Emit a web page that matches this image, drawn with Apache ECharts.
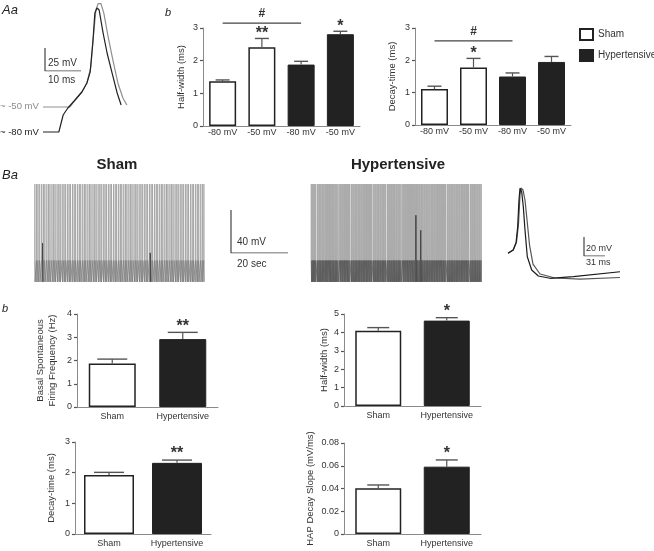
<!DOCTYPE html>
<html><head><meta charset="utf-8">
<script src="https://cdn.jsdelivr.net/npm/echarts@6/dist/echarts.min.js"></script>
<style>html,body{margin:0;padding:0;background:#fff}#c{width:654px;height:551px}</style>
</head><body><div id="c"></div>
<script>
// ---------------- DATA ----------------
// Aa: action potentials at two holding potentials (t in ms, V in mV)
const aaTraceMinus80 = [[0,-80],[4.4,-80],[5.6,-61.5],[6.9,-53.9],[8.9,-45.2],[10.8,-36.5],[12.2,-26.7],[13.1,-14.8],[13.9,20],[14.4,49.3],[15,54.8],[15.6,52.6],[16.7,27.6],[17.8,5.9],[19.2,-15.9],[20.6,-37.6],[21.7,-50.7]];
const aaTraceMinus50 = [[0,-52.8],[7.5,-52.8],[8.9,-45.2],[10.8,-36.5],[12.2,-26.7],[13.3,-9.3],[13.9,20],[14.7,52.6],[15.3,59.5],[16.1,59.5],[16.9,49.3],[18.1,23.3],[19.4,-1.7],[20.8,-26.7],[22.2,-43],[23.3,-50.7]];
const aaScaleBar = [25, 10]; // mV, ms

// Ab: bar charts
const topCategories = ['-80 mV', '-50 mV', '-80 mV', '-50 mV'];
const topGroups = ['Sham', 'Sham', 'Hypertensive', 'Hypertensive'];
const halfWidthMean = [1.37, 2.41, 1.88, 2.81];
const halfWidthSem  = [0.04, 0.27, 0.10, 0.09];
const halfWidthSig  = ['', '**', '', '*'];
const halfWidthHash = [0, 2, 3.15];
const decayMean = [1.11, 1.78, 1.50, 1.95];
const decaySem  = [0.09, 0.28, 0.11, 0.17];
const decaySig  = ['', '*', '', ''];
const decayHash = [0, 2, 2.6];

// Ba: spontaneous firing (spike times in s)
const shamSpikeTimes = [0.3,0.9,1.4,2.0,2.7,3.3,3.8,4.5,5.1,5.6,6.3,6.9,7.4,8.1,8.7,9.2,9.9,10.5,11.0,11.7,12.3,12.8,13.5,14.1,14.6,15.3,15.9,16.4,17.1,17.7,18.2,18.9,19.5,20.0,20.7,21.3,21.8,22.5,23.1,23.6,24.3,24.9,25.4,26.1,26.7,27.2,27.9,28.5,29.0,29.7,30.3,30.8,31.5,32.1,32.6,33.3,33.9,34.4,35.1,35.7,36.2,36.9,37.5,38.0,38.7,39.3,39.8,40.5,41.1,41.6,42.3,42.9,43.4,44.1,44.7,45.2,45.9,46.5,47.0,47.7,48.3,48.8,49.5,50.1,50.6,51.3,51.9,52.4,53.1,53.7,54.2,54.9,55.5,56.0,56.7,57.3,57.8,58.5,59.1,59.6];
const shamShortSpikes = [[3.0, -33], [40.8, -42]];
const hypSpikeTimes = [0.1,0.4,0.7,1.0,1.3,1.6,2.2,2.5,2.9,3.2,3.5,3.9,4.2,4.5,4.9,5.2,5.5,5.8,6.2,6.5,6.8,7.1,7.5,7.8,8.1,8.5,8.8,9.1,9.5,10.1,10.4,10.8,11.1,11.5,11.8,12.1,12.5,12.8,13.1,13.5,14.1,14.4,14.8,15.1,15.5,15.8,16.1,16.5,16.8,17.1,17.5,17.8,18.2,18.5,18.8,19.2,19.5,19.8,20.2,20.5,20.9,21.2,21.8,22.1,22.5,22.8,23.2,23.5,23.8,24.2,24.5,24.9,25.2,25.5,25.9,26.2,26.8,27.1,27.5,27.8,28.2,28.5,28.9,29.2,29.5,29.9,30.2,30.6,30.9,31.2,31.6,32.2,32.5,32.9,33.2,33.6,33.9,34.2,34.6,34.9,35.3,35.6,35.9,36.3,36.6,37.0,37.3,37.6,38.0,38.3,38.7,39.0,39.3,39.7,40.0,40.4,40.7,41.0,41.4,41.7,42.1,42.4,42.7,43.1,43.4,43.8,44.1,44.4,44.8,45.1,45.5,45.8,46.1,46.5,46.8,47.2,47.8,48.1,48.5,48.8,49.2,49.5,49.8,50.2,50.5,50.9,51.2,51.5,51.9,52.2,52.6,52.9,53.2,53.6,53.9,54.3,54.6,54.9,55.3,55.9,56.2,56.6,56.9,57.3,57.6,57.9,58.3,58.6,59.0,59.3,59.7];
const hypShortSpikes = [[36.8, -7], [38.5, -21]];
const spikeLevels = {pre: -49, peak: 22, trough: -69}; // mV
const trainScaleBar = [40, 20]; // mV, s

// Ba right: superimposed HAPs (t in ms, V in mV)
const hapSham = [[0,-50],[7.4,-46.5],[12.6,-38.1],[15.5,-19.2],[17.7,11.4],[19.2,18.7],[22.2,16.6],[25.1,6.1],[28.1,-15],[31.8,-41.3],[36.9,-61.3],[47.3,-71.8],[69.4,-76],[106.4,-77.1],[165.4,-75.5]];
const hapHyp  = [[0,-50],[7.8,-46.5],[11.8,-39.2],[14.3,-22],[16.2,6.1],[17.7,18.4],[20.2,14.8],[22.6,-0.9],[25.1,-25.5],[28.5,-53.6],[35,-67.6],[44.8,-73.9],[62,-76.3],[96.5,-74.6],[165.4,-69.4]];
const hapScaleBar = [20, 31]; // mV, ms

// Bb: bar charts
const groups = ['Sham', 'Hypertensive'];
const freqMean = [1.87, 2.92], freqSem = [0.19, 0.29], freqSig = ['', '**'];
const hwMean = [4.09, 4.64], hwSem = [0.17, 0.16], hwSig = ['', '*'];
const dtMean = [1.92, 2.32], dtSem = [0.09, 0.09], dtSig = ['', '**'];
const slopeMean = [0.0402, 0.0592], slopeSem = [0.0029, 0.0059], slopeSig = ['', '*'];

// ---------------- BUILD ----------------
const FONT = 'Liberation Sans';
const TXT = '#333';
const AX = '#8a8a8a';
const grids = [], xAxes = [], yAxes = [], series = [];

function addGrid(g, x, y) {
  const gi = grids.length;
  grids.push(Object.assign({containLabel: false}, g));
  xAxes.push(Object.assign({gridIndex: gi}, x));
  yAxes.push(Object.assign({gridIndex: gi}, y));
  return gi;
}
function hiddenGrid(g, xmin, xmax, ymin, ymax) {
  return addGrid(g, {type: 'value', min: xmin, max: xmax, show: false},
                    {type: 'value', min: ymin, max: ymax, show: false});
}
function lineSeries(gi, data, color, width, z) {
  series.push({type: 'line', xAxisIndex: gi, yAxisIndex: gi, data: data, showSymbol: false, symbol: 'none',
    lineStyle: {color: color, width: width}, silent: true, z: z || 2, animation: false});
}
function scaleBar(gi, vals) {
  lineSeries(gi, [[0, vals[0]], [0, 0], [vals[1], 0]], '#444', 1.2);
}
// each spike: pre-spike level -> peak -> after-hyperpolarisation
function spikeTrain(times, peaks) {
  const d = [];
  times.forEach((t, i) => {
    d.push([t - 0.05, spikeLevels.pre], [t, peaks ? peaks[i] : spikeLevels.peak], [t + 0.1, spikeLevels.trough]);
  });
  return d;
}
// sub-threshold part: after-hyperpolarisation -> next pre-spike level
function baseline(times) {
  const d = [];
  times.forEach((t, i) => {
    d.push([t - 0.05, spikeLevels.pre], [t + 0.1, spikeLevels.trough]);
  });
  return d;
}
function barChart(g, cats, ymax, interval, name, nameGap, labelMargin, fmt) {
  return addGrid(g,
    {type: 'category', data: cats.map((c, i) => String(i)),
     axisLine: {lineStyle: {color: AX, width: 1}},
     axisTick: {alignWithLabel: true, length: 3, lineStyle: {color: '#555', width: 1.2}},
     axisLabel: {interval: 0, formatter: (v, i) => cats[i], color: TXT, fontSize: 9, fontFamily: FONT, margin: labelMargin}},
    {type: 'value', min: 0, max: ymax, interval: interval, name: name, nameLocation: 'middle', nameGap: nameGap,
     nameTextStyle: {color: TXT, fontSize: 9.5, fontFamily: FONT, lineHeight: 12},
     axisLine: {show: true, lineStyle: {color: AX, width: 1}},
     axisTick: {show: true, length: 3, lineStyle: {color: '#555', width: 1.2}},
     splitLine: {show: false},
     axisLabel: {color: TXT, fontSize: 9, fontFamily: FONT, margin: 5, formatter: fmt}});
}
function bars(gi, means, grp, width) {
  const shamData = means.map((m, i) => grp[i] === 'Sham' ? m : '-');
  const hypData = means.map((m, i) => grp[i] === 'Hypertensive' ? m : '-');
  series.push({type: 'bar', name: 'Sham', xAxisIndex: gi, yAxisIndex: gi, data: shamData, barWidth: width, barGap: '-100%',
    itemStyle: {color: '#fff', borderColor: '#222', borderWidth: 1.5}, silent: true, animation: false});
  series.push({type: 'bar', name: 'Hypertensive', xAxisIndex: gi, yAxisIndex: gi, data: hypData, barWidth: width, barGap: '-100%',
    itemStyle: {color: '#222', borderColor: '#222', borderWidth: 1}, silent: true, animation: false});
}
function errors(gi, means, sems, sigs, capW, sigGap) {
  series.push({type: 'custom', xAxisIndex: gi, yAxisIndex: gi, z: 5, silent: true, animation: false, clip: false,
    data: means.map((m, i) => [i, m, sems[i]]),
    renderItem: (params, api) => {
      const i = api.value(0), m = api.value(1), e = api.value(2);
      const a = api.coord([i, m]), b = api.coord([i, m + e]);
      const ch = [
        {type: 'line', shape: {x1: a[0], y1: a[1], x2: b[0], y2: b[1]}, style: {stroke: '#555', lineWidth: 1.2}},
        {type: 'line', shape: {x1: b[0] - capW / 2, y1: b[1], x2: b[0] + capW / 2, y2: b[1]}, style: {stroke: '#555', lineWidth: 1.4}}
      ];
      const s = sigs[params.dataIndex];
      if (s) ch.push({type: 'text', x: b[0], y: b[1] - sigGap,
        style: {text: s, fill: '#333', fontSize: 16, fontFamily: FONT, fontWeight: 'bold', align: 'center', verticalAlign: 'middle'}});
      return {type: 'group', children: ch};
    }});
}
function hashBracket(gi, h) {
  series.push({type: 'custom', xAxisIndex: gi, yAxisIndex: gi, z: 5, silent: true, animation: false, clip: false,
    data: [h],
    renderItem: (params, api) => {
      const p0 = api.coord([api.value(0), api.value(2)]), p1 = api.coord([api.value(1), api.value(2)]);
      return {type: 'group', children: [
        {type: 'line', shape: {x1: p0[0], y1: p0[1], x2: p1[0], y2: p1[1]}, style: {stroke: '#444', lineWidth: 1.3}},
        {type: 'text', x: (p0[0] + p1[0]) / 2, y: p0[1] - 9,
         style: {text: '#', fill: '#333', fontSize: 12, fontFamily: FONT, fontWeight: 'bold', align: 'center', verticalAlign: 'middle'}}
      ]};
    }});
}

// Aa traces
const gAa = hiddenGrid({left: 43, top: 1.4, width: 90, height: 135.2}, 0, 25, -85, 62);
lineSeries(gAa, aaTraceMinus50, '#8f8f8f', 1.2, 2);
lineSeries(gAa, aaTraceMinus80, '#222', 1.2, 3);
const gAaS = hiddenGrid({left: 45, top: 48, width: 36, height: 23}, 0, aaScaleBar[1], 0, aaScaleBar[0]);
scaleBar(gAaS, aaScaleBar);

// Ab bar charts
const gHW = barChart({left: 203, top: 28, width: 157, height: 98}, topCategories, 3, 1, 'Half-width (ms)', 16, 2);
bars(gHW, halfWidthMean, topGroups, 27);
errors(gHW, halfWidthMean, halfWidthSem, halfWidthSig, 14, 5);
hashBracket(gHW, halfWidthHash);
const gDT = barChart({left: 415, top: 28, width: 156, height: 97}, topCategories, 3, 1, 'Decay-time (ms)', 17, 2);
bars(gDT, decayMean, topGroups, 27);
errors(gDT, decayMean, decaySem, decaySig, 14, 5);
hashBracket(gDT, decayHash);

// Ba spike trains
const gSham = hiddenGrid({left: 34, top: 183, width: 171, height: 100}, 0, 60, -70, 23);
lineSeries(gSham, spikeTrain(shamSpikeTimes), '#a2a2a2', 0.8, 2);
lineSeries(gSham, baseline(shamSpikeTimes), '#7a7a7a', 0.6, 3);
shamShortSpikes.forEach(s => lineSeries(gSham, spikeTrain([s[0]], [s[1]]), '#444', 1, 4));
const gTS = hiddenGrid({left: 231, top: 210, width: 57, height: 43}, 0, trainScaleBar[1], 0, trainScaleBar[0]);
scaleBar(gTS, trainScaleBar);
const gHyp = hiddenGrid({left: 311, top: 183, width: 171, height: 100}, 0, 60, -70, 23);
lineSeries(gHyp, spikeTrain(hypSpikeTimes), '#ababab', 1, 2);
lineSeries(gHyp, baseline(hypSpikeTimes), '#505050', 0.6, 3);
hypShortSpikes.forEach(s => lineSeries(gHyp, spikeTrain([s[0]], [s[1]]), '#444', 1, 4));
const gHap = hiddenGrid({left: 508, top: 184.9, width: 112, height: 96.9}, 0, 165.4, -80, 22);
lineSeries(gHap, hapSham, '#555', 1.2, 2);
lineSeries(gHap, hapHyp, '#1a1a1a', 1.2, 3);
const gHS = hiddenGrid({left: 584, top: 237, width: 21, height: 19}, 0, hapScaleBar[1], 0, hapScaleBar[0]);
scaleBar(gHS, hapScaleBar);

// Bb bar charts
const gB1 = barChart({left: 77, top: 314, width: 141, height: 93}, groups, 4, 1, 'Basal Spontaneous\nFiring Frequency (Hz)', 19, 5);
bars(gB1, freqMean, groups, 47); errors(gB1, freqMean, freqSem, freqSig, 30, 6);
const gB2 = barChart({left: 344, top: 314, width: 137, height: 92}, groups, 5, 1, 'Half-width (ms)', 13, 5);
bars(gB2, hwMean, groups, 46); errors(gB2, hwMean, hwSem, hwSig, 22, 6);
const gB3 = barChart({left: 75, top: 442, width: 136, height: 92}, groups, 3, 1, 'Decay-time (ms)', 18, 5);
bars(gB3, dtMean, groups, 50); errors(gB3, dtMean, dtSem, dtSig, 30, 6);
const gB4 = barChart({left: 344, top: 443, width: 137, height: 91}, groups, 0.08, 0.02, 'HAP Decay Slope (mV/ms)', 28, 5,
  v => v === 0 ? '0' : v.toFixed(2));
bars(gB4, slopeMean, groups, 46); errors(gB4, slopeMean, slopeSem, slopeSig, 22, 6);

function txt(text, x, y, o) {
  return {type: 'text', x: x, y: y, silent: true,
    style: Object.assign({text: text, fill: TXT, fontSize: 10, fontFamily: FONT, align: 'left', verticalAlign: 'middle'}, o || {})};
}
const graphics = [
  txt('Aa', 2, 10, {fontSize: 13, fontStyle: 'italic', fill: '#222'}),
  txt('b', 165, 13, {fontSize: 11, fontStyle: 'italic', fill: '#222'}),
  txt('~ -50 mV', 0, 106, {fontSize: 9.5, fill: '#8a8a8a'}),
  txt('~ -80 mV', 0, 132, {fontSize: 9.5, fill: '#222'}),
  txt('25 mV', 48, 63, {fontSize: 10}),
  txt('10 ms', 48, 80, {fontSize: 10}),
  txt('Sham', 117, 165, {fontSize: 15, fontWeight: 'bold', align: 'center', fill: '#222'}),
  txt('Hypertensive', 398, 165, {fontSize: 15, fontWeight: 'bold', align: 'center', fill: '#222'}),
  txt('Ba', 2, 175, {fontSize: 13, fontStyle: 'italic', fill: '#222'}),
  txt('40 mV', 237, 242, {fontSize: 10}),
  txt('20 sec', 237, 264, {fontSize: 10}),
  txt('20 mV', 586, 249, {fontSize: 9}),
  txt('31 ms', 586, 263, {fontSize: 9}),
  txt('b', 2, 309, {fontSize: 11, fontStyle: 'italic', fill: '#222'})
];

const chart = echarts.init(document.getElementById('c'), null, {renderer: 'canvas'});
chart.setOption({
  animation: false,
  backgroundColor: '#fff',
  textStyle: {fontFamily: FONT},
  legend: {data: ['Sham', 'Hypertensive'], orient: 'vertical', left: 579, top: 28, icon: 'rect',
    itemWidth: 13, itemHeight: 11, itemGap: 8, selectedMode: false,
    textStyle: {color: TXT, fontSize: 10, fontFamily: FONT, padding: [0, 0, 0, 0]}, padding: 0},
  grid: grids, xAxis: xAxes, yAxis: yAxes, series: series, graphic: graphics
});
</script></body></html>
